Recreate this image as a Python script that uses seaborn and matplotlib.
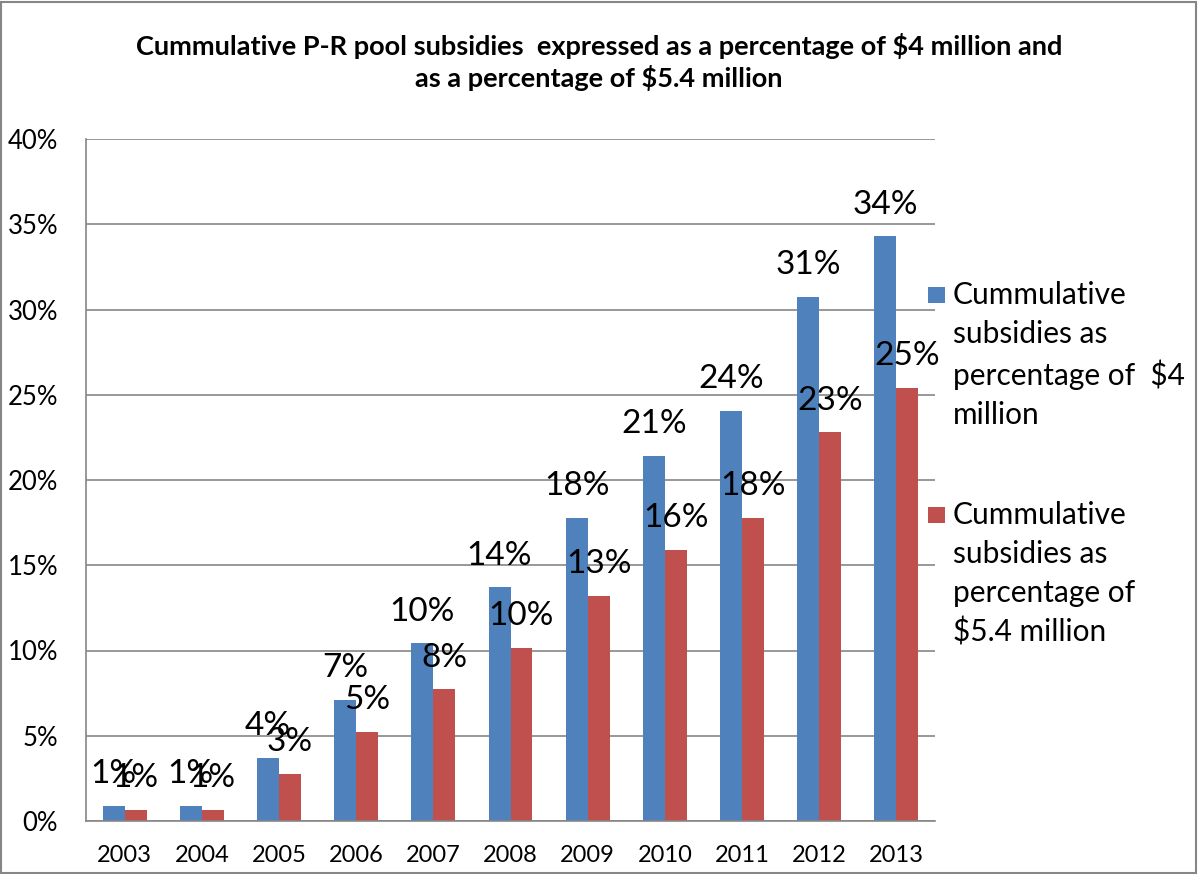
import matplotlib
matplotlib.use("Agg")
import matplotlib.pyplot as plt
import pandas as pd
import seaborn as sns
from matplotlib.patches import Rectangle
from matplotlib.ticker import PercentFormatter

# Valeurs (en %)
years = ["2003", "2004", "2005", "2006", "2007", "2008", "2009", "2010", "2011", "2012", "2013"]
pct_4m = [0.88, 0.88, 3.71, 7.1, 10.42, 13.7, 17.8, 21.4, 24.07, 30.75, 34.3]
pct_54m = [0.65, 0.65, 2.76, 5.24, 7.72, 10.16, 13.2, 15.9, 17.8, 22.8, 25.4]
series_names = [
    "Cummulative\nsubsidies as\npercentage of  $4\nmillion",
    "Cummulative\nsubsidies as\npercentage of\n$5.4 million",
]
colors = ["#4F81BD", "#C0504D"]
title = ("Cummulative P-R pool subsidies  expressed as a percentage of $4 million and\n"
         "as a percentage of $5.4 million")

df = pd.DataFrame({
    "year": years * 2,
    "value": pct_4m + pct_54m,
    "serie": [series_names[0]] * len(years) + [series_names[1]] * len(years),
})

sns.set_theme(style="white")
plt.rcParams["font.family"] = ["Lato", "DejaVu Sans"]

W, H = 1198, 874
fig = plt.figure(figsize=(W / 100, H / 100), dpi=100)
ax = fig.add_axes([86 / W, 1 - 821 / H, (935 - 86) / W, (821 - 139) / H])

sns.barplot(data=df, x="year", y="value", hue="serie", order=years,
            hue_order=series_names, palette=colors, width=0.57, gap=0,
            ax=ax, saturation=1, linewidth=0, legend=False)

for container in ax.containers:
    labels = [f"{v:.0f}%" for v in container.datavalues]
    ax.bar_label(container, labels=labels, padding=12, fontsize=24, color="black")

ax.set_ylim(0, 40)
ax.set_yticks(range(0, 41, 5))
ax.yaxis.set_major_formatter(PercentFormatter(decimals=0))
ax.set_xlim(-0.5, len(years) - 0.5)
ax.set_xlabel("")
ax.set_ylabel("")
ax.yaxis.grid(True, color="#868686", linewidth=1.2)
ax.set_axisbelow(True)
for side in ["top", "right"]:
    ax.spines[side].set_visible(False)
for side in ["left", "bottom"]:
    ax.spines[side].set_color("#868686")
    ax.spines[side].set_linewidth(1.2)
ax.tick_params(axis="y", labelsize=18.5, left=False, pad=14, labelcolor="black")
ax.tick_params(axis="x", labelsize=17, bottom=False, pad=11, labelcolor="black")

# Légende dessinée à la main (carré aligné sur la première ligne, comme Excel)
for name, color, top in zip(series_names, colors, [281, 501]):
    fig.patches.append(Rectangle((928 / W, 1 - (top + 22) / H), 17 / W, 16 / H,
                                 transform=fig.transFigure, facecolor=color,
                                 edgecolor="none"))
    fig.text(953 / W, 1 - top / H, name, ha="left", va="top", fontsize=21.5,
             linespacing=1.47, color="black")

fig.text(0.5, 1 - 62 / H, title, ha="center", va="center", fontsize=19.5,
         fontweight="bold", linespacing=1.3, color="black")

fig.patches.append(Rectangle((0.001, 0.001), 0.997, 0.997, transform=fig.transFigure,
                             fill=False, edgecolor="#868686", linewidth=1.5))

fig.savefig("out.png", dpi=100)
